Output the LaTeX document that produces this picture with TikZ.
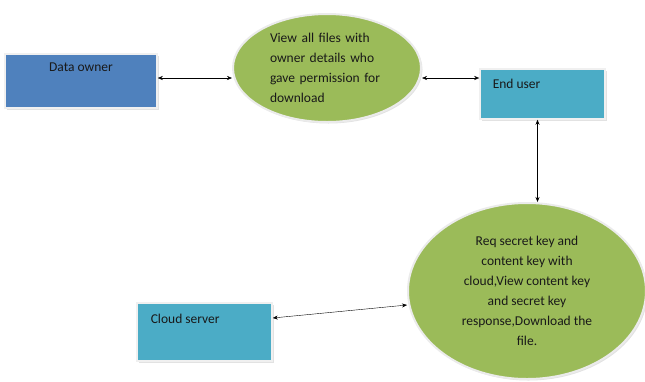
\documentclass[tikz,border=0pt]{standalone}
\usepackage{fontspec}
\setmainfont{Carlito}
\usetikzlibrary{positioning,shadows,arrows.meta,shapes.geometric}
\definecolor{ownerblue}{HTML}{4F81BD}
\definecolor{userteal}{HTML}{4BACC6}
\definecolor{ovalgreen}{HTML}{9BBB59}
\begin{document}
\begin{tikzpicture}[x=1pt, y=-1pt,
  every node/.style={font=\fontsize{13.5}{20}\selectfont, text=black!90},
  box/.style={draw=gray!12, line width=1.5pt, rectangle, drop shadow={shadow xshift=1.5pt, shadow yshift=-1.5pt, fill=gray!45}},
  oval/.style={draw=white!92!black, line width=2pt, ellipse, fill=ovalgreen, drop shadow={shadow xshift=1.5pt, shadow yshift=-1.5pt, fill=gray!45}},
  link/.style={<->, >={Stealth[length=5pt, width=4pt]}, thin}]
\useasboundingbox (0,0) rectangle (645,381);
\node[box, fill=ownerblue, minimum width=152, minimum height=54,
  label={[anchor=north, yshift=-6pt]north:Data owner}] (owner) at (81,81) {};
\node[oval, minimum width=188, minimum height=108, text width=114, align=left] (view) at (327,68)
  {View all files with\\ owner details who\\ gave permission for\\ download};
\node[box, fill=userteal, minimum width=125, minimum height=50,
  label={[anchor=north west, xshift=10pt, yshift=-7pt]north west:End user}] (user) at (542.5,94) {};
\node[oval, minimum width=238, minimum height=176, align=center] (request) at (527,291)
  {Req secret key and\\ content key with\\ cloud,View content key\\ and secret key\\ response,Download the\\ file.};
\node[box, fill=userteal, minimum width=135, minimum height=58,
  label={[anchor=north west, xshift=11pt, yshift=-8pt]north west:Cloud server}] (cloud) at (204.5,332) {};

\draw[link] ([yshift=3pt]owner.east) -- ([yshift=-10pt]view.west);
\draw[link] ([yshift=-10pt]view.east) -- ([yshift=16pt]user.west);
\draw[link] ([xshift=-5pt]user.south) -- ([xshift=-5pt]user.south |- request.north);
\draw[link] ([yshift=14pt]cloud.east) -- ([yshift=-14pt]request.west);
\end{tikzpicture}
\end{document}
